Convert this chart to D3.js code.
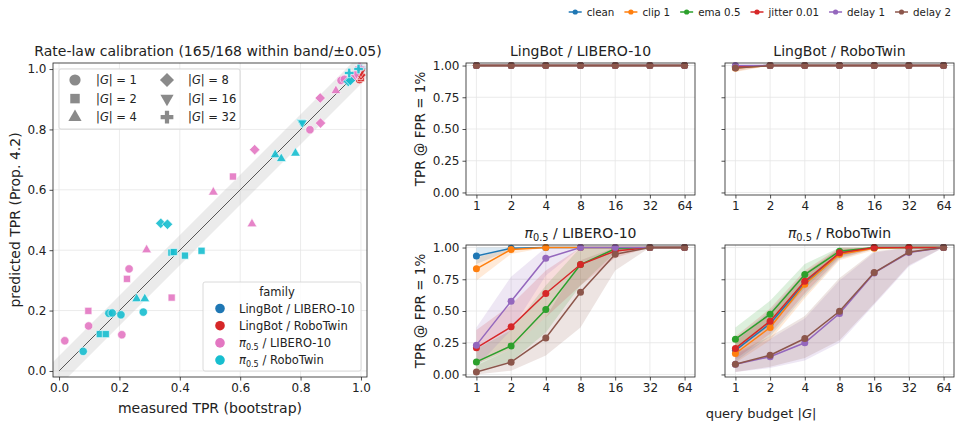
<!DOCTYPE html>
<head>
    <meta charset="utf-8" />
    <script src="https://d3js.org/d3.v7.min.js"></script>
    <style>
        body { margin: 0; background: #fff; }
        text { font-family: "DejaVu Sans", sans-serif; fill: #222; }
    </style>
    <title>calibration + budget curves</title>
</head>
<body>
<script>
    // ---------------- data ----------------
    var families = ["LingBot / LIBERO-10", "LingBot / RoboTwin", "π0.5 / LIBERO-10", "π0.5 / RoboTwin"];
    var familyColors = ["#1f77b4", "#d62728", "#e377c2", "#17becf"];
    var groupSizes = [1, 2, 4, 8, 16, 32];
    var calTicks = [0, 0.2, 0.4, 0.6, 0.8, 1.0];
    var bandHalf = 0.05;

    // [|G|, measured TPR, predicted TPR]
    var calLingLibero = [[1, 1, 1], [2, 1, 1], [4, 1, 1], [8, 1, 1], [16, 1, 1], [32, 1, 1]];
    var calLingRobotwin = [[1, 0.995, 0.965], [2, 1.0, 0.97], [4, 0.99, 0.975], [8, 1.0, 0.98], [16, 1.0, 0.99]];
    var calPiLibero = [
        [1, 0.019, 0.100], [1, 0.098, 0.149], [1, 0.208, 0.120], [1, 0.232, 0.338], [1, 0.831, 0.799], [1, 0.934, 0.962],
        [1, 0.945, 0.966],
        [2, 0.097, 0.199], [2, 0.225, 0.305], [2, 0.373, 0.243], [2, 0.576, 0.644],
        [4, 0.290, 0.401], [4, 0.511, 0.592], [4, 0.639, 0.487], [4, 0.917, 0.928],
        [8, 0.648, 0.733], [8, 0.865, 0.904], [8, 0.866, 0.821], [8, 0.975, 0.972],
        [16, 0.985, 0.985], [32, 0.995, 1.005]
    ];
    var calPiRobotwin = [
        [1, 0.080, 0.065], [1, 0.165, 0.191], [1, 0.176, 0.192], [1, 0.205, 0.186], [1, 0.279, 0.195],
        [2, 0.135, 0.122], [2, 0.155, 0.122], [2, 0.372, 0.392], [2, 0.380, 0.394], [2, 0.417, 0.382], [2, 0.472, 0.398],
        [4, 0.257, 0.239], [4, 0.284, 0.239], [4, 0.716, 0.716], [4, 0.736, 0.703], [4, 0.783, 0.721],
        [8, 0.337, 0.489], [8, 0.359, 0.486], [8, 0.958, 0.959], [8, 0.965, 0.962],
        [16, 0.802, 0.824], [16, 0.806, 0.822],
        [32, 0.961, 0.987], [32, 0.992, 1.0]
    ];
    var calSets = [calLingLibero, calLingRobotwin, calPiLibero, calPiRobotwin];

    var budgets = [1, 2, 4, 8, 16, 32, 64];
    var variants = ["clean", "clip 1", "ema 0.5", "jitter 0.01", "delay 1", "delay 2"];
    var variantColors = ["#1f77b4", "#ff7f0e", "#2ca02c", "#d62728", "#9467bd", "#8c564b"];
    var tprTicks = [0, 0.25, 0.5, 0.75, 1.0];

    // rows = variants, cols = budgets
    var lingLiberoMean = [
        [1, 1, 1, 1, 1, 1, 1], [1, 1, 1, 1, 1, 1, 1], [1, 1, 1, 1, 1, 1, 1],
        [1, 1, 1, 1, 1, 1, 1], [1, 1, 1, 1, 1, 1, 1], [1, 1, 1, 1, 1, 1, 1]
    ];
    var lingLiberoLo = [
        [0.995, 1, 1, 1, 1, 1, 1], [0.995, 1, 1, 1, 1, 1, 1], [0.995, 1, 1, 1, 1, 1, 1],
        [0.995, 1, 1, 1, 1, 1, 1], [0.995, 1, 1, 1, 1, 1, 1], [0.995, 1, 1, 1, 1, 1, 1]
    ];
    var lingLiberoHi = [
        [1, 1, 1, 1, 1, 1, 1], [1, 1, 1, 1, 1, 1, 1], [1, 1, 1, 1, 1, 1, 1],
        [1, 1, 1, 1, 1, 1, 1], [1, 1, 1, 1, 1, 1, 1], [1, 1, 1, 1, 1, 1, 1]
    ];
    var lingRobotwinMean = [
        [0.99, 1, 1, 1, 1, 1, 1], [0.98, 1, 1, 1, 1, 1, 1], [0.99, 1, 1, 1, 1, 1, 1],
        [0.99, 1, 1, 1, 1, 1, 1], [1.0, 1, 1, 1, 1, 1, 1], [0.98, 1, 1, 1, 1, 1, 1]
    ];
    var lingRobotwinLo = [
        [0.975, 1, 1, 1, 1, 1, 1], [0.95, 1, 1, 1, 1, 1, 1], [0.975, 1, 1, 1, 1, 1, 1],
        [0.975, 1, 1, 1, 1, 1, 1], [0.99, 1, 1, 1, 1, 1, 1], [0.955, 1, 1, 1, 1, 1, 1]
    ];
    var lingRobotwinHi = [
        [1, 1, 1, 1, 1, 1, 1], [1, 1, 1, 1, 1, 1, 1], [1, 1, 1, 1, 1, 1, 1],
        [1, 1, 1, 1, 1, 1, 1], [1, 1, 1, 1, 1, 1, 1], [1, 1, 1, 1, 1, 1, 1]
    ];
    var piLiberoMean = [
        [0.934, 0.995, 1, 1, 1, 1, 1],
        [0.832, 0.985, 1, 1, 1, 1, 1],
        [0.099, 0.225, 0.512, 0.866, 0.99, 1, 1],
        [0.21, 0.375, 0.638, 0.866, 0.973, 1, 1],
        [0.231, 0.577, 0.916, 1, 1, 1, 1],
        [0.02, 0.097, 0.288, 0.648, 0.947, 1, 1]
    ];
    var piLiberoLo = [
        [0.87, 0.98, 1, 1, 1, 1, 1],
        [0.74, 0.95, 1, 1, 1, 1, 1],
        [0.03, 0.10, 0.33, 0.70, 0.96, 1, 1],
        [0.08, 0.20, 0.45, 0.70, 0.92, 1, 1],
        [0.06, 0.35, 0.78, 1, 1, 1, 1],
        [0.0, 0.03, 0.15, 0.37, 0.82, 1, 1]
    ];
    var piLiberoHi = [
        [1, 1, 1, 1, 1, 1, 1],
        [0.92, 1, 1, 1, 1, 1, 1],
        [0.20, 0.35, 0.70, 1, 1, 1, 1],
        [0.35, 0.55, 0.82, 1, 1, 1, 1],
        [0.37, 0.77, 1, 1, 1, 1, 1],
        [0.07, 0.20, 0.45, 0.90, 1, 1, 1]
    ];
    var piRobotwinMean = [
        [0.19, 0.40, 0.72, 0.955, 1, 1, 1],
        [0.165, 0.37, 0.711, 0.947, 0.995, 1, 1],
        [0.278, 0.475, 0.787, 0.971, 1, 1, 1],
        [0.205, 0.42, 0.735, 0.958, 1, 1, 1],
        [0.08, 0.14, 0.25, 0.48, 0.80, 0.96, 1],
        [0.081, 0.152, 0.283, 0.498, 0.803, 0.965, 1]
    ];
    var piRobotwinLo = [
        [0.10, 0.30, 0.62, 0.91, 0.99, 1, 1],
        [0.09, 0.27, 0.60, 0.90, 0.98, 1, 1],
        [0.20, 0.38, 0.68, 0.93, 1, 1, 1],
        [0.12, 0.32, 0.64, 0.92, 0.99, 1, 1],
        [0.02, 0.05, 0.11, 0.25, 0.55, 0.85, 1],
        [0.02, 0.06, 0.13, 0.27, 0.56, 0.86, 1]
    ];
    var piRobotwinHi = [
        [0.28, 0.50, 0.80, 0.99, 1, 1, 1],
        [0.26, 0.48, 0.80, 0.99, 1, 1, 1],
        [0.37, 0.58, 0.87, 1, 1, 1, 1],
        [0.30, 0.52, 0.82, 1, 1, 1, 1],
        [0.16, 0.28, 0.44, 0.74, 0.96, 1, 1],
        [0.17, 0.30, 0.46, 0.76, 0.97, 1, 1]
    ];
    var panelMeans = [lingLiberoMean, lingRobotwinMean, piLiberoMean, piRobotwinMean];
    var panelLo = [lingLiberoLo, lingRobotwinLo, piLiberoLo, piRobotwinLo];
    var panelHi = [lingLiberoHi, lingRobotwinHi, piLiberoHi, piRobotwinHi];

    // ---------------- helpers ----------------
    var svg = d3.select("body").append("svg").attr("width", 961).attr("height", 426);

    // writes a label, rendering a leading "π0.5" as math text
    function labelText(sel, str) {
        if (str.indexOf("π0.5") === 0) {
            sel.append("tspan").attr("font-style", "italic").text("π");
            sel.append("tspan").attr("font-size", "0.7em").attr("dy", 3).text("0.5");
            sel.append("tspan").attr("dy", -3).text(str.slice(4));
        } else {
            sel.text(str);
        }
    }
    function gText(sel, n) {
        sel.append("tspan").text("|");
        sel.append("tspan").attr("font-style", "italic").text("G");
        sel.append("tspan").text("| = " + n);
    }
    function styleAxis(g) {
        g.select(".domain").remove();
        g.selectAll(".tick line").attr("stroke", "#222").attr("stroke-width", 0.8);
        g.selectAll(".tick text").attr("font-size", 12).attr("fill", "#222")
            .attr("font-family", "DejaVu Sans, sans-serif");
    }
    var shapeOf = {1: d3.symbolCircle, 2: d3.symbolSquare, 4: d3.symbolTriangle, 8: d3.symbolSquare, 16: d3.symbolTriangle, 32: d3.symbolCross};
    var rotOf = {1: 0, 2: 0, 4: 0, 8: 45, 16: 180, 32: 0};
    var areaOf = {1: 55, 2: 50, 4: 42, 8: 55, 16: 42, 32: 50};

    // ---------------- left: calibration scatter ----------------
    var sc = {l: 53, r: 367, t: 63, b: 377};
    var sx = d3.scaleLinear().domain([-0.02, 1.02]).range([sc.l, sc.r]);
    var sy = d3.scaleLinear().domain([-0.02, 1.02]).range([sc.b, sc.t]);

    svg.append("clipPath").attr("id", "clipcal").append("rect")
        .attr("x", sc.l).attr("y", sc.t).attr("width", sc.r - sc.l).attr("height", sc.b - sc.t);

    var cal = svg.append("g");
    cal.selectAll(".gx").data(calTicks).join("line")
        .attr("x1", d => sx(d)).attr("x2", d => sx(d)).attr("y1", sc.t).attr("y2", sc.b)
        .attr("stroke", "#e6e6e6").attr("stroke-width", 0.8);
    cal.selectAll(".gy").data(calTicks).join("line")
        .attr("y1", d => sy(d)).attr("y2", d => sy(d)).attr("x1", sc.l).attr("x2", sc.r)
        .attr("stroke", "#e6e6e6").attr("stroke-width", 0.8);

    var dom = sx.domain();
    var bandArea = d3.area().x(d => sx(d)).y0(d => sy(d - bandHalf)).y1(d => sy(d + bandHalf));
    cal.append("path").datum(dom).attr("d", bandArea)
        .attr("fill", "#bdbdbd").attr("opacity", 0.3).attr("clip-path", "url(#clipcal)");
    cal.append("line").attr("x1", sx(0)).attr("y1", sy(0)).attr("x2", sx(1)).attr("y2", sy(1))
        .attr("stroke", "#555").attr("stroke-width", 1);

    calSets.forEach(function (set, fi) {
        cal.append("g").selectAll("path").data(set).join("path")
            .attr("d", d => d3.symbol().type(shapeOf[d[0]]).size(areaOf[d[0]])())
            .attr("transform", d => "translate(" + sx(d[1]) + "," + sy(d[2]) + ") rotate(" + rotOf[d[0]] + ")")
            .attr("fill", familyColors[fi]).attr("fill-opacity", 0.9)
            .attr("stroke", "#fff").attr("stroke-width", 0.6);
    });

    cal.append("rect").attr("x", sc.l).attr("y", sc.t).attr("width", sc.r - sc.l).attr("height", sc.b - sc.t)
        .attr("fill", "none").attr("stroke", "#222").attr("stroke-width", 0.8);
    cal.append("g").attr("transform", "translate(0," + sc.b + ")")
        .call(d3.axisBottom(sx).tickValues(calTicks).tickFormat(d3.format(".1f")).tickSize(3.5).tickPadding(3))
        .call(styleAxis);
    cal.append("g").attr("transform", "translate(" + sc.l + ",0)")
        .call(d3.axisLeft(sy).tickValues(calTicks).tickFormat(d3.format(".1f")).tickSize(3.5).tickPadding(3))
        .call(styleAxis);

    svg.append("text").attr("x", 208).attr("y", 56).attr("text-anchor", "middle").attr("font-size", 14)
        .text("Rate-law calibration (165/168 within band/±0.05)");
    svg.append("text").attr("x", 210).attr("y", 413).attr("text-anchor", "middle").attr("font-size", 14)
        .text("measured TPR (bootstrap)");
    svg.append("text").attr("transform", "translate(20,220) rotate(-90)").attr("text-anchor", "middle")
        .attr("font-size", 14).text("predicted TPR (Prop. 4.2)");

    // size legend
    var lg1 = svg.append("g");
    lg1.append("rect").attr("x", 59).attr("y", 69).attr("width", 181).attr("height", 60).attr("rx", 2)
        .attr("fill", "#fff").attr("fill-opacity", 0.85).attr("stroke", "#d0d0d0").attr("stroke-width", 0.8);
    groupSizes.forEach(function (g, i) {
        var col = Math.floor(i / 3), row = i % 3;
        var mx = 75 + col * 92, my = 80 + row * 18.6;
        lg1.append("path")
            .attr("d", d3.symbol().type(shapeOf[g]).size(areaOf[g] * 1.8)())
            .attr("transform", "translate(" + mx + "," + my + ") rotate(" + rotOf[g] + ")")
            .attr("fill", "#8a8a8a");
        lg1.append("text").attr("x", mx + 21).attr("y", my + 4).attr("font-size", 11.5).call(gText, g);
    });

    // family legend
    var lg2 = svg.append("g");
    lg2.append("rect").attr("x", 203).attr("y", 282).attr("width", 158).attr("height", 89).attr("rx", 2)
        .attr("fill", "#fff").attr("fill-opacity", 0.85).attr("stroke", "#d0d0d0").attr("stroke-width", 0.8);
    lg2.append("text").attr("x", 277).attr("y", 296).attr("text-anchor", "middle").attr("font-size", 11.5).text("family");
    families.forEach(function (f, i) {
        var my = 308.5 + i * 17.2;
        lg2.append("circle").attr("cx", 220).attr("cy", my).attr("r", 4.8).attr("fill", familyColors[i]);
        lg2.append("text").attr("x", 239).attr("y", my + 4).attr("font-size", 11.5).call(labelText, f);
    });

    // ---------------- right: TPR vs budget panels ----------------
    var colX = [466, 725], rowY = [63, 245], pw = 229, ph = 132;
    var px = d3.scaleLog().base(2).domain([Math.pow(2, -0.3), Math.pow(2, 6.3)]).range([0, pw]);
    var py = d3.scaleLinear().domain([-0.02, 1.02]).range([ph, 0]);

    families.forEach(function (title, p) {
        var cx = colX[p % 2], cy = rowY[Math.floor(p / 2)];
        var g = svg.append("g").attr("transform", "translate(" + cx + "," + cy + ")");
        g.selectAll(".gx").data(budgets).join("line")
            .attr("x1", d => px(d)).attr("x2", d => px(d)).attr("y1", 0).attr("y2", ph)
            .attr("stroke", "#e6e6e6").attr("stroke-width", 0.8);
        g.selectAll(".gy").data(tprTicks).join("line")
            .attr("y1", d => py(d)).attr("y2", d => py(d)).attr("x1", 0).attr("x2", pw)
            .attr("stroke", "#e6e6e6").attr("stroke-width", 0.8);

        var means = panelMeans[p], lo = panelLo[p], hi = panelHi[p];
        variants.forEach(function (v, vi) {
            var area = d3.area().x((d, i) => px(budgets[i])).y0((d, i) => py(lo[vi][i])).y1((d, i) => py(hi[vi][i]));
            g.append("path").datum(means[vi]).attr("d", area)
                .attr("fill", variantColors[vi]).attr("fill-opacity", 0.16);
        });
        variants.forEach(function (v, vi) {
            var line = d3.line().x((d, i) => px(budgets[i])).y(d => py(d));
            g.append("path").datum(means[vi]).attr("d", line)
                .attr("fill", "none").attr("stroke", variantColors[vi]).attr("stroke-width", 1.5);
            g.append("g").selectAll("circle").data(means[vi]).join("circle")
                .attr("cx", (d, i) => px(budgets[i])).attr("cy", d => py(d)).attr("r", 3.5)
                .attr("fill", variantColors[vi]);
        });

        g.append("rect").attr("width", pw).attr("height", ph)
            .attr("fill", "none").attr("stroke", "#222").attr("stroke-width", 0.8);
        g.append("g").attr("transform", "translate(0," + ph + ")")
            .call(d3.axisBottom(px).tickValues(budgets).tickFormat(d3.format("d")).tickSize(3.5).tickPadding(3))
            .call(styleAxis);
        var ya = d3.axisLeft(py).tickValues(tprTicks).tickSize(3.5).tickPadding(3)
            .tickFormat(p % 2 === 0 ? d3.format(".2f") : "");
        g.append("g").call(ya).call(styleAxis);

        g.append("text").attr("x", pw / 2).attr("y", -7).attr("text-anchor", "middle").attr("font-size", 14)
            .call(labelText, title);
        if (p % 2 === 0) {
            g.append("text").attr("transform", "translate(-41," + (ph / 2) + ") rotate(-90)")
                .attr("text-anchor", "middle").attr("font-size", 13.5).text("TPR @ FPR = 1%");
        }
    });

    svg.append("text").attr("x", 761).attr("y", 418).attr("text-anchor", "middle").attr("font-size", 13)
        .call(function (s) {
            s.append("tspan").text("query budget |");
            s.append("tspan").attr("font-style", "italic").text("G");
            s.append("tspan").text("|");
        });

    // top legend, right aligned
    var lg3 = svg.append("g");
    var items = variants.map(function (v, i) {
        var it = lg3.append("g");
        it.append("line").attr("x1", 0).attr("x2", 13).attr("y1", 0).attr("y2", 0)
            .attr("stroke", variantColors[i]).attr("stroke-width", 1.5);
        it.append("circle").attr("cx", 6.5).attr("cy", 0).attr("r", 2.6).attr("fill", variantColors[i]);
        var t = it.append("text").attr("x", 18).attr("y", 3.6).attr("font-size", 10.3).text(v);
        return {g: it, w: 18 + t.node().getComputedTextLength()};
    });
    var total = d3.sum(items, d => d.w) + 10 * (items.length - 1);
    var xpos = 951 - total;
    items.forEach(function (it) {
        it.g.attr("transform", "translate(" + xpos + ",12)");
        xpos += it.w + 10;
    });
</script>
</body>
